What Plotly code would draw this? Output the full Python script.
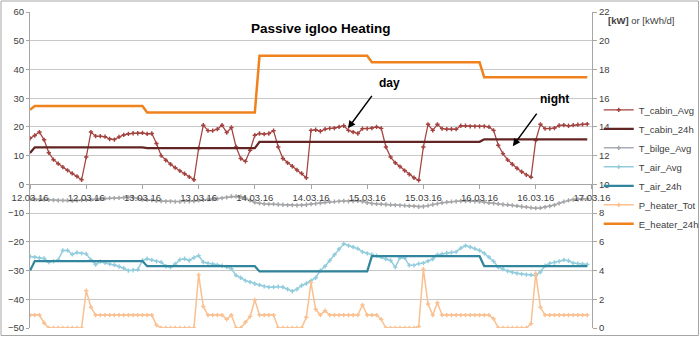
import plotly.graph_objects as go
import pandas as pd

# ---------------- data (hourly, 12.03.16 00:00 .. 16.03.16 23:00) ----------------
start = "2016-03-12 00:00"
n_hours = 120

T_cabin_Avg = [
    16.0, 17.0, 18.2, 15.5, 11.0, 8.6, 7.2, 6.0, 4.9, 3.8, 2.8, 1.6,
    9.5, 18.2, 16.8, 16.8, 16.6, 15.8, 15.6, 16.5, 17.2, 17.6, 17.8, 17.8,
    17.9, 17.6, 17.7, 14.2, 10.0, 8.4, 7.0, 5.8, 4.7, 3.7, 2.6, 1.6,
    12.5, 20.6, 18.7, 18.7, 19.2, 20.6, 18.0, 19.8, 13.0, 9.0, 8.0, 11.9,
    17.1, 17.7, 17.5, 17.7, 18.7, 13.0, 9.0, 7.5, 6.3, 5.0, 3.8, 2.3,
    18.8, 19.0, 18.5, 19.2, 19.5, 19.6, 20.0, 20.4, 18.8, 18.2, 17.7, 19.4,
    19.4, 19.6, 20.0, 19.5, 13.0, 9.5, 7.5, 6.2, 4.8, 3.5, 2.3, 1.4,
    13.0, 20.9, 18.8, 20.9, 19.4, 19.2, 19.2, 19.2, 20.4, 20.4, 20.2, 20.2,
    20.2, 20.2, 20.0, 18.8, 13.6, 10.7, 8.5, 7.0, 5.6, 4.4, 3.3, 2.5,
    15.3, 20.9, 19.4, 19.4, 19.6, 20.5, 20.6, 20.4, 20.6, 20.8, 20.9, 21.0,
]

T_cabin_24h = [
    10.9, 12.9, 12.9, 12.9, 12.9, 12.9, 12.9, 12.9, 12.9, 12.9, 12.9, 12.9,
    12.9, 12.9, 12.9, 12.9, 12.9, 12.9, 12.9, 12.9, 12.9, 12.9, 12.9, 12.9,
    12.9, 12.6, 12.6, 12.6, 12.6, 12.6, 12.6, 12.6, 12.6, 12.6, 12.6, 12.6,
    12.6, 12.6, 12.6, 12.6, 12.6, 12.6, 12.6, 12.6, 12.6, 12.6, 12.6, 12.6,
    12.6, 14.8, 14.8, 14.8, 14.8, 14.8, 14.8, 14.8, 14.8, 14.8, 14.8, 14.8,
    14.8, 14.8, 14.8, 14.8, 14.8, 14.8, 14.8, 14.8, 14.8, 14.8, 14.8, 14.8,
    14.8, 14.8, 14.8, 14.8, 14.8, 14.8, 14.8, 14.8, 14.8, 14.8, 14.8, 14.8,
    14.8, 14.8, 14.8, 14.8, 14.8, 14.8, 14.8, 14.8, 14.8, 14.8, 14.8, 14.8,
    14.8, 15.7, 15.7, 15.7, 15.7, 15.7, 15.7, 15.7, 15.7, 15.7, 15.7, 15.7,
    15.7, 15.7, 15.7, 15.7, 15.7, 15.7, 15.7, 15.7, 15.7, 15.7, 15.7, 15.7,
]

T_bilge_Avg = [
    -5.0, -5.2, -5.3, -5.3, -5.4, -5.5, -5.6, -5.6, -5.6, -5.7, -5.6, -5.5,
    -5.4, -5.3, -5.1, -5.0, -4.9, -4.8, -4.8, -4.7, -4.6, -4.5, -4.6, -4.9,
    -5.3, -5.4, -5.5, -5.7, -5.8, -5.9, -5.9, -6.0, -6.0, -5.9, -5.9, -5.8,
    -5.6, -5.4, -5.2, -5.1, -5.0, -4.8, -4.5, -4.2, -4.2, -4.3, -4.8, -5.6,
    -6.3, -6.6, -6.8, -6.9, -6.9, -7.0, -7.1, -7.2, -7.2, -7.3, -7.2, -7.1,
    -6.9, -6.7, -6.5, -6.3, -6.1, -6.0, -5.9, -5.8, -5.9, -5.8, -5.7, -6.0,
    -6.4, -6.7, -6.8, -6.9, -7.0, -7.1, -7.2, -7.3, -7.4, -7.5, -7.6, -7.8,
    -7.7, -7.4, -7.0, -6.7, -6.4, -6.2, -6.0, -5.9, -5.8, -5.8, -5.8, -5.9,
    -6.0, -6.2, -6.4, -6.6, -6.8, -7.0, -7.1, -7.3, -7.5, -7.7, -7.9, -8.1,
    -8.3, -8.2, -7.9, -7.6, -7.2, -6.6, -6.0, -5.6, -5.3, -5.2, -5.1, -5.0,
]

T_air_Avg = [
    -25.1, -25.3, -25.6, -25.8, -27.1, -26.8, -26.3, -23.0, -23.0, -24.4, -23.7, -24.0,
    -24.2, -26.3, -27.9, -26.9, -27.3, -27.7, -28.0, -28.6, -29.2, -30.0, -29.9, -29.7,
    -26.5, -25.9, -26.3, -26.8, -27.1, -28.5, -28.8, -27.7, -26.2, -25.9, -26.5, -25.5,
    -24.8, -27.1, -27.5, -27.7, -28.0, -28.3, -28.7, -29.4, -31.7, -32.5, -33.5, -34.0,
    -34.6, -35.0, -35.5, -35.8, -35.8, -35.6, -35.8, -36.5, -37.2, -36.5, -35.2, -34.5,
    -33.5, -32.5, -30.0, -28.5, -26.5, -24.5, -22.5, -20.7, -21.3, -21.8, -22.4, -23.5,
    -24.0, -24.4, -24.8, -25.3, -26.0, -26.5, -28.8, -25.6, -25.6, -28.2, -28.2, -27.6,
    -27.4, -26.7, -26.0, -24.5, -24.2, -23.9, -23.7, -23.5, -22.2, -21.3, -21.8, -22.4,
    -23.0, -24.0, -25.3, -26.8, -28.8, -29.5, -30.2, -30.6, -31.0, -31.2, -31.4, -31.5,
    -31.7, -30.5, -28.3, -27.5, -27.2, -26.8, -26.3, -26.6, -27.4, -27.6, -27.8, -27.9,
]

T_air_24h = [
    -30.0, -26.7, -26.7, -26.7, -26.7, -26.7, -26.7, -26.7, -26.7, -26.7, -26.7, -26.7,
    -26.7, -26.7, -26.7, -26.7, -26.7, -26.7, -26.7, -26.7, -26.7, -26.7, -26.7, -26.7,
    -26.7, -28.5, -28.5, -28.5, -28.5, -28.5, -28.5, -28.5, -28.5, -28.5, -28.5, -28.5,
    -28.5, -28.5, -28.5, -28.5, -28.5, -28.5, -28.5, -28.5, -28.5, -28.5, -28.5, -28.5,
    -28.5, -30.3, -30.3, -30.3, -30.3, -30.3, -30.3, -30.3, -30.3, -30.3, -30.3, -30.3,
    -30.3, -30.3, -30.3, -30.3, -30.3, -30.3, -30.3, -30.3, -30.3, -30.3, -30.3, -30.3,
    -30.3, -25.0, -25.0, -25.0, -25.0, -25.0, -25.0, -25.0, -25.0, -25.0, -25.0, -25.0,
    -25.0, -25.0, -25.0, -25.0, -25.0, -25.0, -25.0, -25.0, -25.0, -25.0, -25.0, -25.0,
    -25.0, -28.5, -28.5, -28.5, -28.5, -28.5, -28.5, -28.5, -28.5, -28.5, -28.5, -28.5,
    -28.5, -28.5, -28.5, -28.5, -28.5, -28.5, -28.5, -28.5, -28.5, -28.5, -28.5, -28.5,
]

P_heater_Tot = [
    0.9, 0.9, 0.9, 0.35, 0.0, 0.0, 0.0, 0.0, 0.0, 0.0, 0.0, 0.0,
    2.6, 1.45, 0.9, 0.9, 0.9, 0.9, 0.9, 0.9, 0.9, 0.9, 0.9, 0.9,
    0.9, 0.9, 0.9, 0.2, 0.0, 0.0, 0.0, 0.0, 0.0, 0.0, 0.0, 0.0,
    3.7, 1.5, 0.9, 0.9, 0.9, 0.9, 0.6, 0.9, 0.0, 0.0, 0.4, 0.8,
    1.95, 0.9, 0.9, 0.9, 0.9, 0.0, 0.0, 0.0, 0.0, 0.0, 0.0, 0.75,
    3.16, 1.3, 0.9, 1.2, 0.9, 0.9, 0.9, 0.9, 0.9, 0.9, 0.9, 1.6,
    0.9, 0.9, 0.9, 0.6, 0.0, 0.0, 0.0, 0.0, 0.0, 0.0, 0.0, 0.1,
    4.1, 1.67, 0.9, 1.76, 0.9, 0.9, 0.9, 0.9, 0.9, 0.9, 0.9, 0.9,
    0.9, 0.9, 0.9, 0.65, 0.0, 0.0, 0.0, 0.0, 0.0, 0.0, 0.0, 0.3,
    3.8, 1.44, 0.9, 0.9, 0.9, 0.9, 0.9, 0.9, 0.9, 0.9, 0.9, 0.9,
]

E_heater_24h = [
    15.2, 15.46, 15.46, 15.46, 15.46, 15.46, 15.46, 15.46, 15.46, 15.46, 15.46, 15.46,
    15.46, 15.46, 15.46, 15.46, 15.46, 15.46, 15.46, 15.46, 15.46, 15.46, 15.46, 15.46,
    15.46, 15.0, 15.0, 15.0, 15.0, 15.0, 15.0, 15.0, 15.0, 15.0, 15.0, 15.0,
    15.0, 15.0, 15.0, 15.0, 15.0, 15.0, 15.0, 15.0, 15.0, 15.0, 15.0, 15.0,
    15.0, 18.95, 18.95, 18.95, 18.95, 18.95, 18.95, 18.95, 18.95, 18.95, 18.95, 18.95,
    18.95, 18.95, 18.95, 18.95, 18.95, 18.95, 18.95, 18.95, 18.95, 18.95, 18.95, 18.95,
    18.95, 18.5, 18.5, 18.5, 18.5, 18.5, 18.5, 18.5, 18.5, 18.5, 18.5, 18.5,
    18.5, 18.5, 18.5, 18.5, 18.5, 18.5, 18.5, 18.5, 18.5, 18.5, 18.5, 18.5,
    18.5, 17.45, 17.45, 17.45, 17.45, 17.45, 17.45, 17.45, 17.45, 17.45, 17.45, 17.45,
    17.45, 17.45, 17.45, 17.45, 17.45, 17.45, 17.45, 17.45, 17.45, 17.45, 17.45, 17.45,
]

title_text = "Passive igloo Heating"
right_axis_label = "<b>[kW]</b> or [kWh/d]"
notes = [("day", "2016-03-15 04:42", 35.2, "2016-03-14 19:54", 19.5),
         ("night", "2016-03-16 16:06", 29.6, "2016-03-16 07:06", 13.3)]

# ---------------- figure ----------------
times = pd.date_range(start, periods=n_hours, freq="h")
FONT = "Liberation Sans, Arial, sans-serif"

fig = go.Figure()

def add(name, y, color, width, markers, axis="y", mcolor=None):
    mode = "lines+markers" if markers else "lines"
    fig.add_trace(go.Scatter(
        x=times, y=y, name=name, mode=mode, yaxis=axis,
        line=dict(color=color, width=width),
        marker=dict(symbol="cross", size=3.6, color=mcolor or color, line=dict(width=0)),
    ))

add("T_cabin_Avg", T_cabin_Avg, "#A3423F", 1.25, True)
add("T_cabin_24h", T_cabin_24h, "#632523", 2.25, False)
add("T_bilge_Avg", T_bilge_Avg, "#A9ADB8", 1.5, True, mcolor="#A6A6A6")
add("T_air_Avg", T_air_Avg, "#93CDDD", 1.5, True)
add("T_air_24h", T_air_24h, "#31859C", 2.25, False)
add("P_heater_Tot", P_heater_Tot, "#FAC090", 1.5, True, "y2")
add("E_heater_24h", E_heater_24h, "#F0821E", 2.5, False, "y2")

tickfont = dict(family=FONT, size=9.5, color="#404040")

fig.update_layout(
    width=700, height=337,
    margin=dict(l=30, r=108, t=12, b=9, autoexpand=False),
    paper_bgcolor="white", plot_bgcolor="white",
    font=dict(family=FONT, color="#404040"),
    showlegend=True,
    legend=dict(x=1.012, xanchor="left", y=0.51, yanchor="middle",
                font=dict(family=FONT, size=9.5, color="#404040"),
                bgcolor="rgba(0,0,0,0)", tracegroupgap=0),
    xaxis=dict(
        type="date", range=["2016-03-11 23:59", "2016-03-17 00:01"],
        tick0="2016-03-12 00:00", dtick=12 * 3600 * 1000, tickformat="%d.%m.%y",
        anchor="free", position=50 / 110,
        showline=True, linecolor="#A6A6A6", linewidth=1,
        ticks="outside", ticklen=4, tickcolor="#A6A6A6",
        showgrid=False, zeroline=False, tickfont=tickfont,
    ),
    yaxis=dict(
        range=[-50, 60], dtick=10, tick0=0,
        showline=True, linecolor="#A6A6A6", linewidth=1,
        ticks="outside", ticklen=3, tickcolor="#A6A6A6",
        gridcolor="#C8C8C8", gridwidth=1, zeroline=False, tickfont=tickfont,
    ),
    yaxis2=dict(
        range=[0, 22], dtick=2, tick0=0, overlaying="y", side="right",
        showline=True, linecolor="#A6A6A6", linewidth=1,
        ticks="outside", ticklen=4, tickcolor="#A6A6A6",
        showgrid=False, zeroline=False, tickfont=tickfont,
    ),
)

fig.add_annotation(text=f"<b>{title_text}</b>", xref="paper", yref="paper",
                   x=(321 - 30) / 562, y=(328 - 28) / 316, yanchor="middle",
                   showarrow=False, font=dict(family=FONT, size=13.5, color="black"))
fig.add_annotation(text=right_axis_label, xref="paper", yref="paper",
                   x=(606 - 30) / 562, y=(328 - 20) / 316, xanchor="left", yanchor="middle",
                   showarrow=False, font=dict(family=FONT, size=9.5, color="#404040"))

for label, tx, ty, hx, hy in notes:
    fig.add_annotation(text=f"<b>{label}</b>", x=tx, y=ty, xref="x", yref="y",
                       showarrow=False, font=dict(family=FONT, size=12, color="black"))
    fig.add_annotation(text="", x=hx, y=hy, xref="x", yref="y",
                       showarrow=True, ax=25, ay=-34, arrowhead=2, arrowsize=1,
                       arrowwidth=1.5, arrowcolor="black")

# outer chart border
fig.add_shape(type="rect", xref="paper", yref="paper",
              x0=(1 - 30) / 562, x1=(698.5 - 30) / 562,
              y0=(328 - 335.5) / 316, y1=(328 - 1) / 316,
              line=dict(color="#A6A6A6", width=1), fillcolor="rgba(0,0,0,0)")

fig.write_html("out.html")
